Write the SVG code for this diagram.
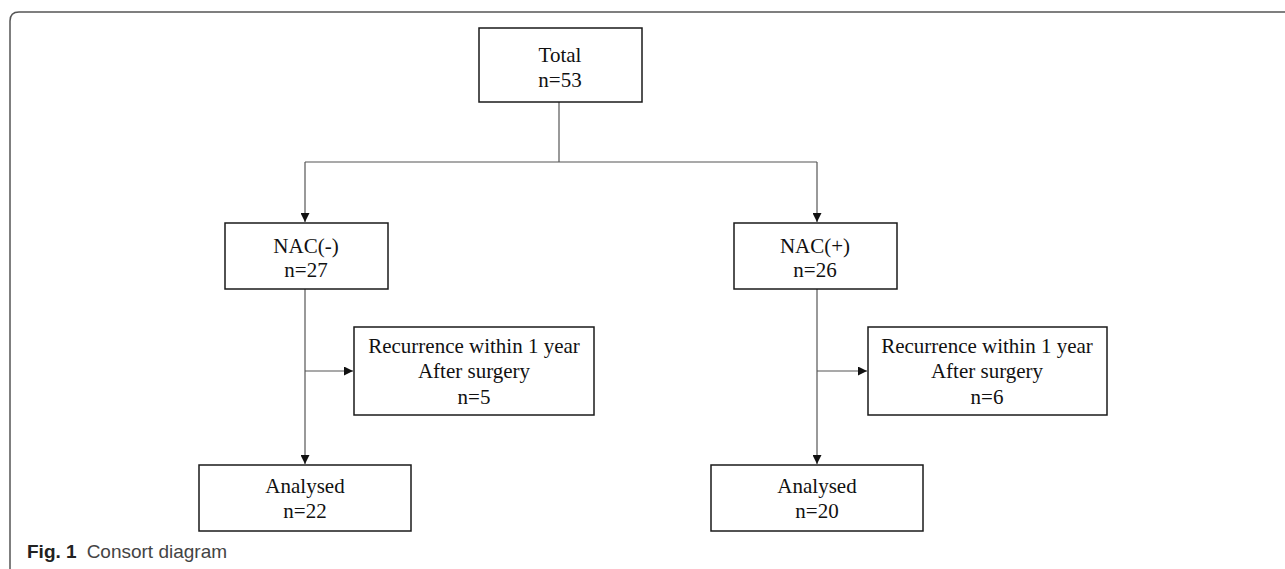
<svg xmlns="http://www.w3.org/2000/svg" width="1285" height="569" viewBox="0 0 1285 569">
<style>
.box{fill:#fff;stroke:#1a1a1a;stroke-width:1.5}
.t{font-family:"Liberation Serif","Times New Roman",serif;font-size:21px;fill:#111;text-anchor:middle}
.c{fill:none;stroke:#555;stroke-width:1.2}
.frame{fill:none;stroke:#555;stroke-width:1.5}
.cap{font-family:"Liberation Sans",Arial,sans-serif;font-size:19px;fill:#333}
</style>
<defs>
<marker id="ah" viewBox="0 0 10 10" refX="10" refY="5" markerWidth="10" markerHeight="9" markerUnits="userSpaceOnUse" orient="auto">
<path d="M0,0 L10,5 L0,10 Z" fill="#111"/>
</marker>
</defs>
<rect width="1285" height="569" fill="#fff"/>
<path class="frame" d="M10,575 L10,21 Q10,12 19,12 L1290,12"/>
<g id="connectors">
<path class="c" d="M559,102 L559,162"/>
<path class="c" d="M305,162 L817,162"/>
<path class="c" d="M305,162 L305,222" marker-end="url(#ah)"/>
<path class="c" d="M817,162 L817,222" marker-end="url(#ah)"/>
<path class="c" d="M305,289 L305,464" marker-end="url(#ah)"/>
<path class="c" d="M305,371 L353,371" marker-end="url(#ah)"/>
<path class="c" d="M817,289 L817,464" marker-end="url(#ah)"/>
<path class="c" d="M817,371 L867,371" marker-end="url(#ah)"/>
</g>
<g id="total">
<rect class="box" x="479" y="28" width="163" height="74"/>
<text class="t" x="560" y="62">Total</text>
<text class="t" x="560" y="87">n=53</text>
</g>
<g id="nac-neg">
<rect class="box" x="225" y="223" width="163" height="66"/>
<text class="t" x="306" y="253">NAC(-)</text>
<text class="t" x="306" y="277">n=27</text>
</g>
<g id="nac-pos">
<rect class="box" x="734" y="223" width="163" height="66"/>
<text class="t" x="815" y="253">NAC(+)</text>
<text class="t" x="815" y="277">n=26</text>
</g>
<g id="rec-neg">
<rect class="box" x="354" y="327" width="240" height="88"/>
<text class="t" x="474" y="353">Recurrence within 1 year</text>
<text class="t" x="474" y="378">After surgery</text>
<text class="t" x="474" y="404">n=5</text>
</g>
<g id="rec-pos">
<rect class="box" x="868" y="327" width="239" height="88"/>
<text class="t" x="987" y="353">Recurrence within 1 year</text>
<text class="t" x="987" y="378">After surgery</text>
<text class="t" x="987" y="404">n=6</text>
</g>
<g id="analysed-neg">
<rect class="box" x="199" y="465" width="212" height="66"/>
<text class="t" x="305" y="493">Analysed</text>
<text class="t" x="305" y="518">n=22</text>
</g>
<g id="analysed-pos">
<rect class="box" x="711" y="465" width="212" height="66"/>
<text class="t" x="817" y="493">Analysed</text>
<text class="t" x="817" y="518">n=20</text>
</g>
<text class="cap" x="27" y="558"><tspan font-weight="bold" fill="#222">Fig. 1</tspan><tspan dx="10" fill="#444">Consort diagram</tspan></text>
</svg>
